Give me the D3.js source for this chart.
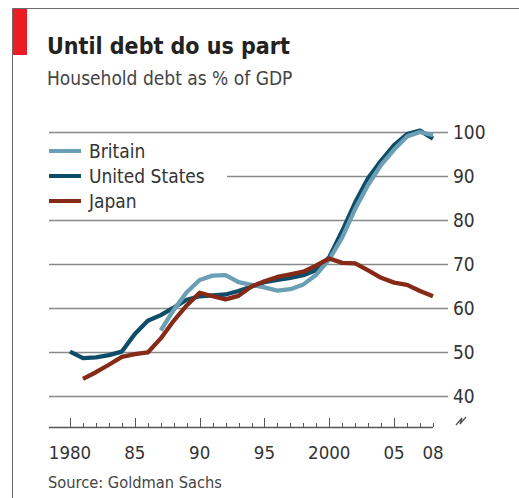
<!DOCTYPE html>
<html>
<head>
<meta charset="utf-8">
<script src="https://cdn.jsdelivr.net/npm/d3@7"></script>
<style>
  body { margin: 0; background: #fff; }
  text { font-family: "DejaVu Sans Condensed", "DejaVu Sans", sans-serif; }
</style>
</head>
<body>
<div id="wrapper"></div>
<script>
// Household debt as % of GDP
const years = d3.range(1980, 2009);
const usValues = [50.0, 48.5, 48.7, 49.2, 50.0, 54.0, 57.0, 58.3, 60.0, 61.8,
  62.6, 62.8, 63.0, 63.8, 64.8, 65.8, 66.3, 66.8, 67.4, 68.6,
  71.5, 77.5, 84.0, 89.5, 93.5, 97.0, 99.5, 100.3, 98.5];
const britainYears = d3.range(1987, 2009);
const britainValues = [54.8, 59.5, 63.5, 66.3, 67.3, 67.4, 65.8, 65.2, 64.6, 63.9,
  64.2, 65.3, 67.5, 71.0, 76.0, 82.5, 88.0, 92.5, 96.0, 99.0, 100.0, 99.3];
const japanYears = d3.range(1981, 2009);
const japanValues = [43.8, 45.3, 47.0, 48.8, 49.4, 49.8, 53.0, 57.0, 60.5,
  63.4, 62.6, 61.9, 62.7, 64.8, 66.0, 67.0, 67.6, 68.2, 69.6,
  71.2, 70.2, 70.1, 68.5, 66.8, 65.7, 65.2, 63.8, 62.6];
const yTicks = [40, 50, 60, 70, 80, 90, 100];
const xTickLabels = [[1980, "1980"], [1985, "85"], [1990, "90"], [1995, "95"],
  [2000, "2000"], [2005, "05"], [2008, "08"]];
const seriesNames = ["Britain", "United States", "Japan"];

const colors = {
  "Britain": "#6a9fb5",
  "United States": "#0e4d67",
  "Japan": "#862a17"
};

const dimensions = {
  width: 519,
  height: 498,
  gridLeft: 49,
  gridRight: 448
};

const svg = d3.select("#wrapper")
  .append("svg")
  .attr("width", dimensions.width)
  .attr("height", dimensions.height);

// frame + red tab
svg.append("path")
  .attr("d", "M12.5,498 V8.5 H519")
  .attr("fill", "none")
  .attr("stroke", "#6b6b6b")
  .attr("stroke-width", 1);
svg.append("rect")
  .attr("x", 13).attr("y", 9)
  .attr("width", 14).attr("height", 46)
  .attr("fill", "#ec1c24");

svg.append("text")
  .attr("x", 47).attr("y", 54)
  .attr("font-size", 23)
  .attr("font-weight", "bold")
  .attr("fill", "#222")
  .text("Until debt do us part");

svg.append("text")
  .attr("x", 47).attr("y", 85)
  .attr("font-size", 19)
  .attr("fill", "#444")
  .text("Household debt as % of GDP");

const xScale = d3.scaleLinear()
  .domain([1980, 2008])
  .range([70, 433]);

const yScale = d3.scaleLinear()
  .domain([40, 100])
  .range([395.5, 132]);

// gridlines with right-hand labels
const grid = svg.append("g");
grid.selectAll("line")
  .data(yTicks)
  .join("line")
  .attr("x1", dimensions.gridLeft)
  .attr("x2", dimensions.gridRight)
  .attr("y1", d => Math.round(yScale(d)) + 0.5)
  .attr("y2", d => Math.round(yScale(d)) + 0.5)
  .attr("stroke", "#8a8a8a")
  .attr("stroke-width", 1.4);
grid.selectAll("text")
  .data(yTicks)
  .join("text")
  .attr("x", 453)
  .attr("y", d => yScale(d) + 7)
  .attr("font-size", 19)
  .attr("fill", "#333")
  .text(d => d);

// axis-break mark under the 40 label
svg.append("path")
  .attr("d", "M456,425 L462,418 L460,424 L466,417")
  .attr("fill", "none")
  .attr("stroke", "#555")
  .attr("stroke-width", 1.3);

// x axis: baseline with upward ticks
const axisY = 427;
const xAxis = svg.append("g");
xAxis.append("line")
  .attr("x1", dimensions.gridLeft)
  .attr("x2", xScale(2008))
  .attr("y1", axisY + 0.5)
  .attr("y2", axisY + 0.5)
  .attr("stroke", "#555")
  .attr("stroke-width", 1.3);
xAxis.selectAll("line.tick")
  .data(years)
  .join("line")
  .attr("class", "tick")
  .attr("x1", d => Math.round(xScale(d)) + 0.5)
  .attr("x2", d => Math.round(xScale(d)) + 0.5)
  .attr("y1", axisY)
  .attr("y2", d => d % 5 === 0 ? axisY - 9 : axisY - 4)
  .attr("stroke", "#555")
  .attr("stroke-width", 1);
xAxis.selectAll("text")
  .data(xTickLabels)
  .join("text")
  .attr("x", d => xScale(d[0]))
  .attr("y", 459)
  .attr("text-anchor", "middle")
  .attr("font-size", 18.5)
  .attr("fill", "#333")
  .text(d => d[1]);

// legend sits on a white patch that interrupts the 90 gridline
const legend = svg.append("g");
legend.append("rect")
  .attr("x", 45).attr("y", 139)
  .attr("width", 182).attr("height", 74)
  .attr("fill", "#fff");
const legendItems = legend.selectAll("g")
  .data(seriesNames)
  .join("g")
  .attr("transform", (d, i) => `translate(49, ${151 + i * 25})`);
legendItems.append("line")
  .attr("x1", 0).attr("x2", 32)
  .attr("stroke", d => colors[d])
  .attr("stroke-width", 4);
legendItems.append("text")
  .attr("x", 40)
  .attr("y", 7)
  .attr("font-size", 19)
  .attr("fill", "#333")
  .text(d => d);

// series lines
const line = d3.line()
  .x(d => xScale(d[0]))
  .y(d => yScale(d[1]));

const series = [
  ["United States", d3.zip(years, usValues)],
  ["Britain", d3.zip(britainYears, britainValues)],
  ["Japan", d3.zip(japanYears, japanValues)]
];

svg.append("g")
  .selectAll("path")
  .data(series)
  .join("path")
  .attr("d", d => line(d[1]))
  .attr("fill", "none")
  .attr("stroke", d => colors[d[0]])
  .attr("stroke-width", 4.3)
  .attr("stroke-linejoin", "round");

svg.append("text")
  .attr("x", 48).attr("y", 488)
  .attr("font-size", 16.3)
  .attr("fill", "#444")
  .text("Source: Goldman Sachs");
</script>
</body>
</html>
